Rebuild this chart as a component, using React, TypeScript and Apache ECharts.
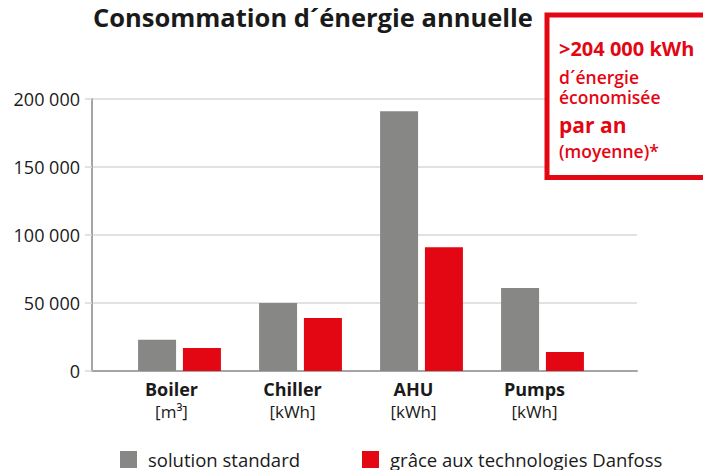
import React, { useEffect, useRef } from "react";
import * as echarts from "echarts";

const categories = ["Boiler", "Chiller", "AHU", "Pumps"];
const units = ["[m³]", "[kWh]", "[kWh]", "[kWh]"];
const standardValues = [23000, 50000, 191000, 61000];
const danfossValues = [17000, 39000, 91000, 14000];
const seriesNames = ["solution standard", "grâce aux technologies Danfoss"];
const yTicks = { min: 0, max: 200000, interval: 50000 };
const titleText = "Consommation d´énergie annuelle";
const boxLines = [">204 000 kWh", "d´énergie", "économisée", "par an", "(moyenne)*"];

const GRAY = "#878786";
const RED = "#e30613";
const DARK = "#1a1a1a";
const FONT = "Open Sans";

const fmt = (v: number) => String(v).replace(/\B(?=(\d{3})+(?!\d))/g, " ");

export default function App() {
  const ref = useRef<HTMLDivElement>(null);
  useEffect(() => {
    if (!ref.current) return;
    const chart = echarts.init(ref.current, undefined, { renderer: "svg" });
    const boxStyles = [
      { size: 20, weight: "bold", base: 55 },
      { size: 17.5, weight: 600, base: 83 },
      { size: 17.5, weight: 600, base: 103 },
      { size: 21, weight: "bold", base: 132 },
      { size: 17.5, weight: 600, base: 157 },
    ];
    chart.setOption({
      animation: false,
      textStyle: { fontFamily: FONT },
      grid: [
        { left: 92, right: 66, top: 99, bottom: 99 },
        { left: 119, right: 100, top: 99, bottom: 99 },
      ],
      xAxis: [
        {
          gridIndex: 0,
          type: "category",
          data: [""],
          axisLine: { show: true, lineStyle: { color: "#a5a5a5", width: 2 } },
          axisTick: { show: false },
          axisLabel: { show: false },
        },
        {
          gridIndex: 1,
          type: "category",
          data: categories,
          axisLine: { show: false },
          axisTick: { show: false },
          axisLabel: {
            margin: 7,
            padding: [0, 16, 0, 0],
            formatter: (v: string, i: number) => `{b|${v}}\n{u|${units[i]}}`,
            rich: {
              b: { fontFamily: FONT, fontWeight: "bold", fontSize: 18, color: DARK, lineHeight: 22 },
              u: { fontFamily: FONT, fontSize: 17, color: DARK, lineHeight: 22 },
            },
          },
        },
      ],
      yAxis: [
        {
          gridIndex: 0,
          type: "value",
          min: yTicks.min,
          max: yTicks.max,
          interval: yTicks.interval,
          axisLine: { show: true, lineStyle: { color: "#a5a5a5", width: 2 } },
          axisTick: { show: true, length: 7, lineStyle: { color: "#d6dadd", width: 1.5 } },
          splitLine: { show: true, lineStyle: { color: "#d6dadd", width: 1.5 } },
          axisLabel: {
            margin: 12,
            fontFamily: FONT,
            fontSize: 18,
            color: DARK,
            formatter: (v: number) => fmt(v),
          },
        },
        { gridIndex: 1, type: "value", min: yTicks.min, max: yTicks.max, show: false },
      ],
      legend: {
        left: 120,
        top: 450,
        padding: 0,
        itemWidth: 17,
        itemHeight: 17,
        itemGap: 62,
        icon: "rect",
        textStyle: {
          fontFamily: FONT,
          fontSize: 18.5,
          lineHeight: 17,
          color: DARK,
          padding: [0, 0, 0, 6],
        },
        data: seriesNames,
      },
      series: [
        {
          name: seriesNames[0],
          type: "bar",
          xAxisIndex: 1,
          yAxisIndex: 1,
          barWidth: 38,
          barGap: "18%",
          itemStyle: { color: GRAY },
          data: standardValues,
        },
        {
          name: seriesNames[1],
          type: "bar",
          xAxisIndex: 1,
          yAxisIndex: 1,
          barWidth: 38,
          barGap: "18%",
          itemStyle: { color: RED },
          data: danfossValues,
        },
      ],
      graphic: [
        {
          type: "text",
          x: 93,
          y: 17,
          style: {
            text: titleText,
            fontFamily: FONT,
            fontWeight: "bold",
            fontSize: 25.5,
            fill: DARK,
            verticalAlign: "middle",
          },
        },
        {
          type: "rect",
          shape: { x: 547, y: 15, width: 300, height: 162.5 },
          style: { fill: "#fff", stroke: RED, lineWidth: 5 },
          z: 10,
        },
        ...boxLines.map((t, i) => ({
          type: "text",
          x: 559,
          y: boxStyles[i].base - boxStyles[i].size * 0.33,
          z: 11,
          style: {
            text: t,
            fontFamily: FONT,
            fontWeight: boxStyles[i].weight,
            fontSize: boxStyles[i].size,
            lineHeight: 16,
            fill: RED,
            verticalAlign: "middle",
          },
        })),
      ],
    });
    return () => chart.dispose();
  }, []);
  return (
    <div
      ref={ref}
      style={{ position: "absolute", left: 0, top: 0, width: 703, height: 470 }}
    />
  );
}
